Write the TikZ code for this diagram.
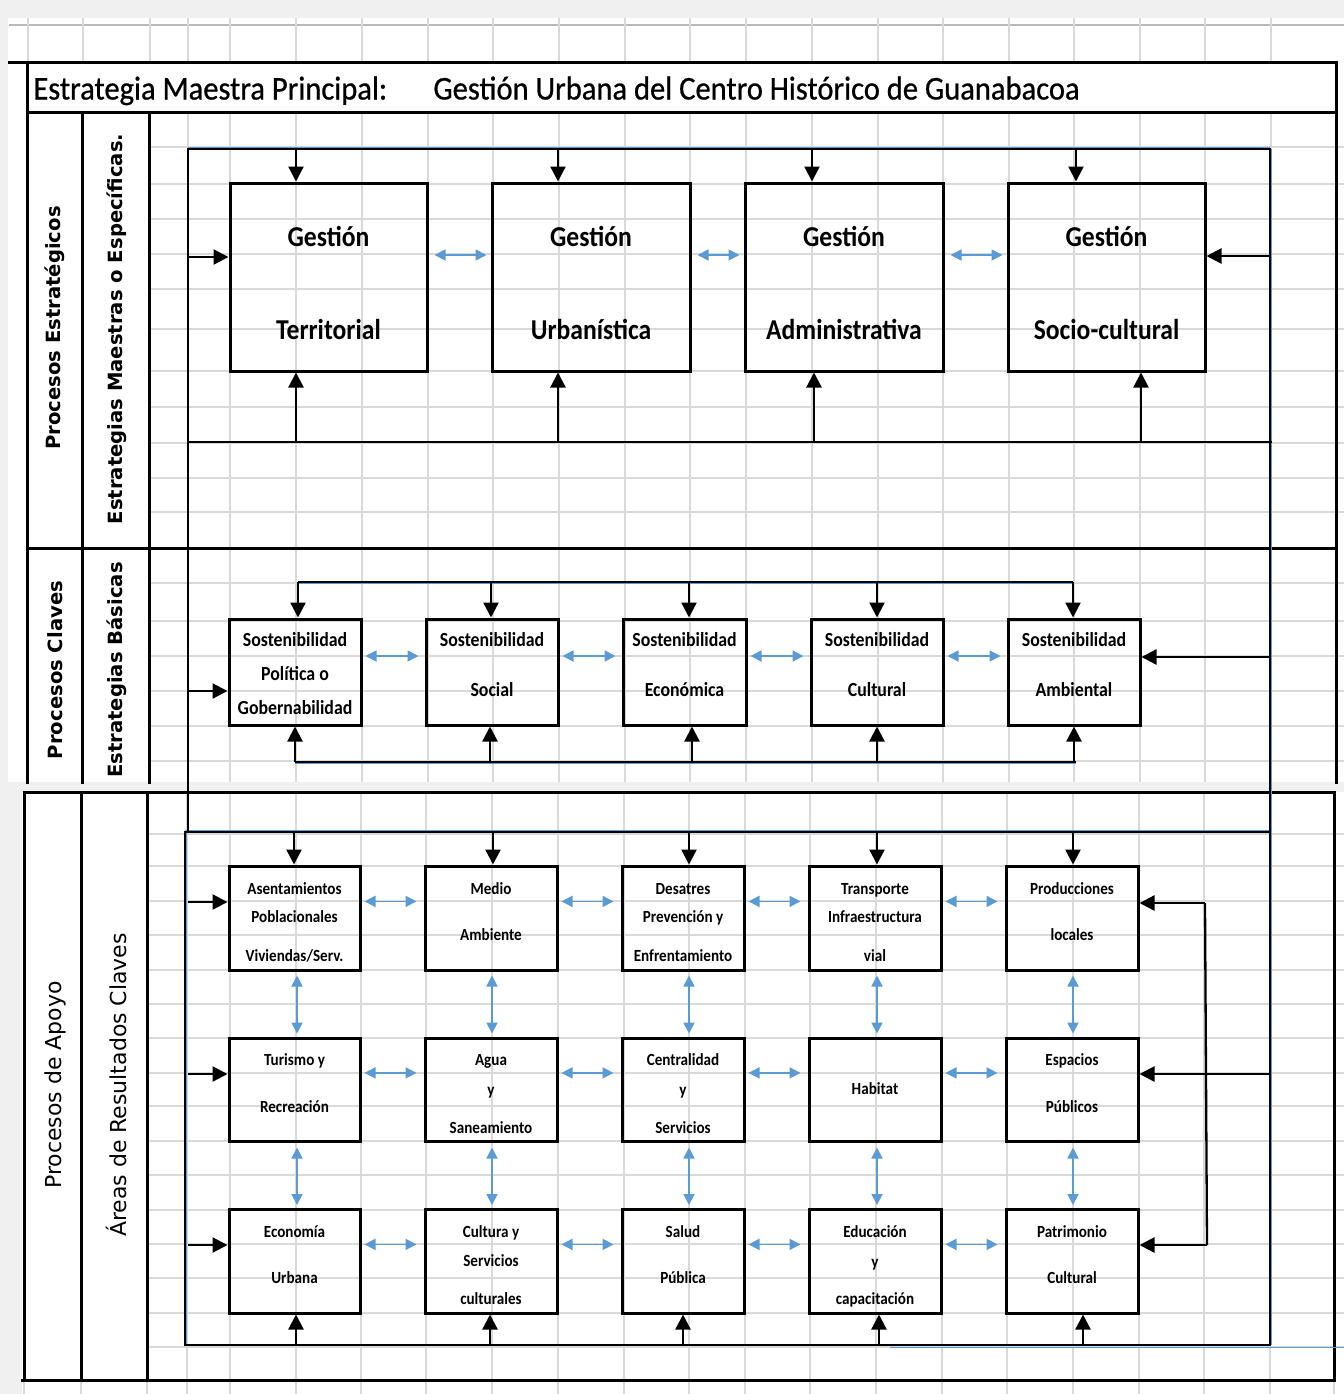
\documentclass[tikz,border=0pt]{standalone}
\usepackage{fontspec}
\setmainfont{Carlito}
\newfontfamily\bxf[FakeStretch=0.89]{Carlito}
\newfontfamily\ttlf[FakeStretch=0.92,FakeBold=0.7]{Carlito}
\newfontfamily\lblf{DejaVu Sans}
\usetikzlibrary{arrows.meta,calc}
\definecolor{gridc}{HTML}{D9D9D9}
\definecolor{bgc}{HTML}{F0F0F0}
\definecolor{blu}{HTML}{5B9BD5}
\tikzset{
 gridl/.style={draw=gridc, line width=0.7pt},
 frm/.style={line width=1.5pt, line cap=rect},
 bx/.style={draw, line width=1.5pt, inner sep=0pt},
 conn/.style={line width=1.15pt},
 arr/.style={line width=1.15pt, -{Triangle[length=7.5pt,width=7.5pt]}},
 barr/.style={draw=blu, line width=0.9pt, {Triangle[length=5.5pt,width=5.5pt]}-{Triangle[length=5.5pt,width=5.5pt]}},
 bline/.style={draw=blu, line width=0.5pt},
 tA/.style={font=\bxf\bfseries\fontsize{14.4}{16}\selectfont, inner sep=0pt, text height=9.2pt, text depth=0pt},
 tB/.style={font=\bxf\bfseries\fontsize{10}{12}\selectfont, inner sep=0pt, text height=6.4pt, text depth=0pt},
 tC/.style={font=\bxf\bfseries\fontsize{8.5}{10}\selectfont, inner sep=0pt, text height=5.5pt, text depth=0pt},
 ttl/.style={font=\ttlf\fontsize{16.6}{20}\selectfont, inner sep=0pt},
 lblB/.style={font=\lblf\bfseries\fontsize{9.8}{12}\selectfont, rotate=90, inner sep=0pt},
 lblR/.style={font=\lblf\fontsize{11}{13}\selectfont, rotate=90, inner sep=0pt},
}
\begin{document}
\begin{tikzpicture}[x=0.5pt,y=-0.5pt]
\useasboundingbox (0,0) rectangle (1344,1394);
% background
\fill[bgc] (0,0) rectangle (1344,1394);
\fill[white] (8,18) rectangle (1344,782);
\fill[white] (22,792) rectangle (1344,1394);
% grid
\draw[draw=gray!55, line width=0.8pt] (9,25) -- (1344,25);
\foreach \x in {28,83,150,188,230,296,362,428,493,559,625,690,746,812,878,943,1009,1074,1140,1205,1271}
  \draw[gridl] (\x,18) -- (\x,62);
\foreach \y in {147,184,219,254,289,329,371,407,443,478,512,583,621,656,691,726,761}
  \draw[gridl] (150,\y) -- (1344,\y);
\foreach \x in {188,230,296,362,428,493,559,625,690,746,812,878,943,1009,1074,1140,1205,1271}
  \draw[gridl] (\x,112) -- (\x,782);
\foreach \y in {834,866,901,935,970,1004,1038,1073,1106,1141,1175,1210,1244,1278,1313,1347}
  \draw[gridl] (147,\y) -- (1344,\y);
\foreach \x in {187,230,296,361,426,492,558,624,689,745,810,876,942,1007,1073,1139,1204,1270}
  \draw[gridl] (\x,792) -- (\x,1394);
\foreach \x in {24,81,147,1334}
  \draw[gridl] (\x,1380) -- (\x,1394);
% section frames
\draw[frm] (9,62) -- (1336,62);
\draw[frm] (27,112) -- (1336,112);
\draw[frm] (27,548) -- (1336,548);
\draw[frm] (27,62) -- (27,782);
\draw[frm] (82,112) -- (82,782);
\draw[frm] (149,112) -- (149,782);
\draw[frm] (1336,62) -- (1336,782);
\draw[frm] (24,792) -- (1334,792);
\draw[frm] (22,1380) -- (1334,1380);
\draw[frm] (24,792) -- (24,1380);
\draw[frm] (81,792) -- (81,1380);
\draw[frm] (147,792) -- (147,1380);
\draw[frm] (1334,792) -- (1334,1380);
% title
\node[ttl, anchor=base west] (ttl1) at (33,99.5) {Estrategia Maestra Principal:};
\node[ttl, anchor=base west] (ttl2) at (433,99.5) {Gestión Urbana del Centro Histórico de Guanabacoa};
% side labels
\node[lblB] (lp1) at (55,328) {Procesos Estratégicos};
\node[lblB] (lp2) at (117,329) {Estrategias Maestras o Específicas.};
\node[lblB] (lp3) at (55,670) {Procesos Claves};
\node[lblB] (lp4) at (117,670) {Estrategias Básicas};
\node[lblR] (lp5) at (55,1085) {Procesos de Apoyo};
\node[lblR] (lp6) at (116,1085) {Áreas de Resultados Claves};
% ---------- boxes
\node[bx, minimum width=98.5pt, minimum height=94pt] (gt) at (328.5,277) {};
\node[bx, minimum width=99pt, minimum height=94pt] (gu) at (591,277) {};
\node[bx, minimum width=99pt, minimum height=94pt] (ga) at (844,277) {};
\node[bx, minimum width=98.5pt, minimum height=94pt] (gs) at (1106.5,277) {};
\node[bx, minimum width=66pt, minimum height=53pt] (s1) at (295,672) {};
\node[bx, minimum width=66pt, minimum height=53pt] (s2) at (492,672) {};
\node[bx, minimum width=61.5pt, minimum height=53pt] (s3) at (684.5,672) {};
\node[bx, minimum width=66pt, minimum height=53pt] (s4) at (877,672) {};
\node[bx, minimum width=66pt, minimum height=53pt] (s5) at (1074,672) {};
\foreach \r/\y/\h in {a/918/52pt,b/1089.5/51.5pt,c/1261/52pt}{
  \node[bx, minimum width=65.5pt, minimum height=\h] (\r1) at (294.5,\y) {};
  \node[bx, minimum width=66pt, minimum height=\h] (\r2) at (491,\y) {};
  \node[bx, minimum width=61pt, minimum height=\h] (\r3) at (683,\y) {};
  \node[bx, minimum width=66pt, minimum height=\h] (\r4) at (875,\y) {};
  \node[bx, minimum width=66pt, minimum height=\h] (\r5) at (1072,\y) {};
}
% ---------- frame connectors
\coordinate (uTL) at (188,149);
\coordinate (uTR) at (1270,149);
\coordinate (uBL) at (188,442);
\coordinate (uBR) at (1272,442);
\coordinate (mJ) at (188,832);
\coordinate (lTL) at (185,832);
\coordinate (lTR) at (1270,832);
\coordinate (lBL) at (185,1345);
\coordinate (lBR) at (1270,1345);
\coordinate (bE1) at (890,1347);
\coordinate (bE2) at (1344,1347);
\draw[bline] ([yshift=0.8pt]uTL) -- ([yshift=0.8pt]uTR);
\draw[bline] ([xshift=0.8pt]uTR) -- ([xshift=0.8pt]lBR);
\draw[bline] ([yshift=0.8pt]lTL) -- ([yshift=0.8pt]lTR);
\draw[bline] ([xshift=0.8pt]lTL) -- ([xshift=0.8pt]lBL);
\draw[bline] (bE1) -- (bE2);
\draw[conn] (uTL) -- (uTR) -- (lBR) -- (lBL) -- (lTL) -- (mJ) -- cycle;
\draw[conn] (uBL) -- (uBR);
\draw[conn] (lTL) -- (lTR);
% top section arrows
\foreach \x/\n in {296/gt,558/gu,812/ga,1076/gs}{
  \coordinate (td\n) at (\x,149);
  \draw[arr] (td\n) -- (td\n |- \n.north);
}
\foreach \x/\n in {296/gt,558/gu,814/ga,1141/gs}{
  \coordinate (tu\n) at (\x,442);
  \draw[arr] (tu\n) -- (tu\n |- \n.south);
}
\coordinate (ul) at (188,257);
\draw[arr] (ul) -- (ul -| gt.west);
\coordinate (ur) at (1270,256);
\draw[arr] (ur) -- (ur -| gs.east);
\foreach \a/\b in {gt/gu,gu/ga,ga/gs}
  \draw[barr] ([xshift=3pt,yshift=11pt]\a.east) -- ([xshift=-2pt,yshift=11pt]\b.west);
% middle section
\coordinate (mTL) at (298,582);
\coordinate (mTR) at (1073,582);
\coordinate (mBL) at (295,762);
\coordinate (mBR) at (1076,762);
\draw[bline] ([yshift=-0.8pt]mTL) -- ([yshift=-0.8pt]mTR);
\draw[bline] ([yshift=-0.8pt]mBL) -- ([yshift=-0.8pt]mBR);
\draw[conn] (mTL) -- (mTR);
\draw[conn] (mBL) -- (mBR);
\foreach \x/\n in {298/s1,491/s2,689/s3,877/s4,1073/s5}{
  \coordinate (md\n) at (\x,582);
  \draw[arr] (md\n) -- (md\n |- \n.north);
}
\foreach \x/\n in {295/s1,490/s2,692/s3,877/s4,1074/s5}{
  \coordinate (mu\n) at (\x,762);
  \draw[arr] (mu\n) -- (mu\n |- \n.south);
}
\coordinate (ml) at (188,691);
\draw[arr] (ml) -- (ml -| s1.west);
\coordinate (mr) at (1270,657);
\draw[arr] (mr) -- (mr -| s5.east);
\foreach \a/\b in {s1/s2,s2/s3,s3/s4,s4/s5}
  \draw[barr] ([xshift=1.5pt,yshift=8pt]\a.east) -- ([xshift=-3pt,yshift=8pt]\b.west);
% lower section
\foreach \x/\n in {294/a1,493/a2,689/a3,877/a4,1073/a5}{
  \coordinate (ld\n) at (\x,832);
  \draw[arr] (ld\n) -- (ld\n |- \n.north);
}
\foreach \x/\n in {296/c1,490/c2,683/c3,879/c4,1083/c5}{
  \coordinate (lu\n) at (\x,1345);
  \draw[arr] (lu\n) -- (lu\n |- \n.south);
}
\foreach \y/\n in {902/a1,1074/b1,1245/c1}{
  \coordinate (ll\n) at (188,\y);
  \draw[arr] (ll\n) -- (ll\n -| \n.west);
}
\coordinate (ir1) at (1205,903);
\coordinate (ir2) at (1207,1245);
\draw[conn] (ir1) -- (ir2);
\draw[arr] (ir1) -- (ir1 -| a5.east);
\draw[arr] (ir2) -- (ir2 -| c5.east);
\coordinate (orr) at (1270,1074);
\draw[arr] (orr) -- (orr -| b5.east);
\foreach \r in {a,b,c}{
  \foreach \i/\j in {1/2,2/3,3/4,4/5}
    \draw[barr] ([xshift=1.5pt,yshift=8.3pt]\r\i.east) -- ([xshift=-3.5pt,yshift=8.3pt]\r\j.west);
}
\foreach \i/\dx in {1/1.25,2/0.5,3/3,4/1,5/0.5}{
  \draw[barr] ([xshift=\dx pt,yshift=-2pt]a\i.south) -- ([xshift=\dx pt,yshift=1.5pt]b\i.north);
  \draw[barr] ([xshift=\dx pt,yshift=-2.5pt]b\i.south) -- ([xshift=\dx pt,yshift=1.25pt]c\i.north);
}
% ---------- box texts
\node[tA] (gt1) at (328.5,237) {Gestión};
\node[tA] (gt2) at (328.5,330) {Territorial};
\node[tA] (gu1) at (591,237) {Gestión};
\node[tA] (gu2) at (591,330) {Urbanística};
\node[tA] (ga1) at (844,237) {Gestión};
\node[tA] (ga2) at (844,330) {Administrativa};
\node[tA] (gs1) at (1106.5,237) {Gestión};
\node[tA] (gs2) at (1106.5,330) {Socio-cultural};
\node[tB] (s1a) at (295,640) {Sostenibilidad};
\node[tB] (s1b) at (295,674) {Política o};
\node[tB] (s1c) at (295,708) {Gobernabilidad};
\node[tB] (s2a) at (492,640) {Sostenibilidad};
\node[tB] (s2b) at (492,690) {Social};
\node[tB] (s3a) at (684.5,640) {Sostenibilidad};
\node[tB] (s3b) at (684.5,690) {Económica};
\node[tB] (s4a) at (877,640) {Sostenibilidad};
\node[tB] (s4b) at (877,690) {Cultural};
\node[tB] (s5a) at (1074,640) {Sostenibilidad};
\node[tB] (s5b) at (1074,690) {Ambiental};
\node[tC] (a1x) at (294.5,889) {Asentamientos};
\node[tC] (a1y) at (294.5,917) {Poblacionales};
\node[tC] (a1z) at (294.5,956) {Viviendas/Serv.};
\node[tC] (a2x) at (491,889) {Medio};
\node[tC] (a2y) at (491,935) {Ambiente};
\node[tC] (a3x) at (683,889) {Desatres};
\node[tC] (a3y) at (683,917) {Prevención y};
\node[tC] (a3z) at (683,956) {Enfrentamiento};
\node[tC] (a4x) at (875,889) {Transporte};
\node[tC] (a4y) at (875,917) {Infraestructura};
\node[tC] (a4z) at (875,956) {vial};
\node[tC] (a5x) at (1072,889) {Producciones};
\node[tC] (a5y) at (1072,935) {locales};
\node[tC] (b1x) at (294.5,1060) {Turismo y};
\node[tC] (b1y) at (294.5,1107) {Recreación};
\node[tC] (b2x) at (491,1060) {Agua};
\node[tC] (b2y) at (491,1090) {y};
\node[tC] (b2z) at (491,1128) {Saneamiento};
\node[tC] (b3x) at (683,1060) {Centralidad};
\node[tC] (b3y) at (683,1090) {y};
\node[tC] (b3z) at (683,1128) {Servicios};
\node[tC] (b4x) at (875,1089) {Habitat};
\node[tC] (b5x) at (1072,1060) {Espacios};
\node[tC] (b5y) at (1072,1107) {Públicos};
\node[tC] (c1x) at (294.5,1232) {Economía};
\node[tC] (c1y) at (294.5,1278) {Urbana};
\node[tC] (c2x) at (491,1232) {Cultura y};
\node[tC] (c2y) at (491,1261) {Servicios};
\node[tC] (c2z) at (491,1299) {culturales};
\node[tC] (c3x) at (683,1232) {Salud};
\node[tC] (c3y) at (683,1278) {Pública};
\node[tC] (c4x) at (875,1232) {Educación};
\node[tC] (c4y) at (875,1262) {y};
\node[tC] (c4z) at (875,1299) {capacitación};
\node[tC] (c5x) at (1072,1232) {Patrimonio};
\node[tC] (c5y) at (1072,1278) {Cultural};
\end{tikzpicture}
\end{document}
